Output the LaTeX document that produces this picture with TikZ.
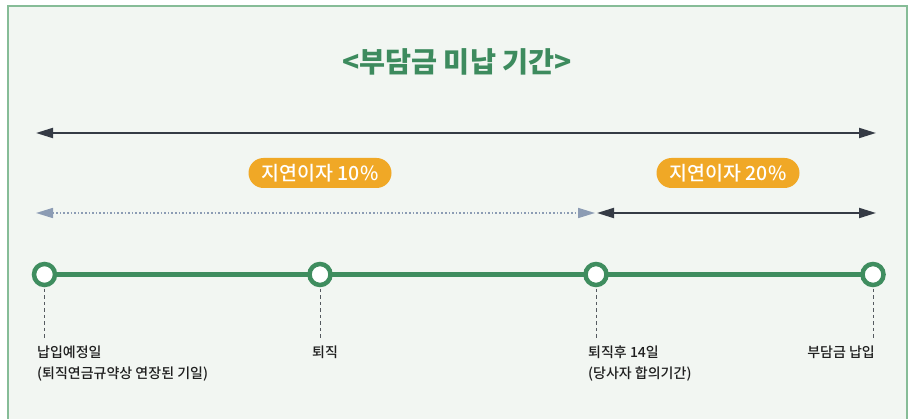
\documentclass[tikz,border=0pt]{standalone}
\usepackage{fontspec}
\setmainfont{Noto Sans CJK KR}
\newfontfamily\cjk{Noto Sans CJK KR}
\newfontfamily\cjkm[UprightFont=* Medium]{Noto Sans CJK KR}
\usetikzlibrary{arrows.meta}
\definecolor{bgc}{HTML}{F2F6F2}
\definecolor{framec}{HTML}{86BC97}
\definecolor{titlec}{HTML}{3D8B5E}
\definecolor{linec}{HTML}{3F8D5F}
\definecolor{pillc}{HTML}{F0A826}
\definecolor{darkc}{HTML}{353B45}
\definecolor{dotc}{HTML}{8C9CB4}
\definecolor{dashc}{HTML}{555A60}
\tikzset{
  pill/.style={fill=pillc, rounded corners=15pt, minimum width=143pt, minimum height=30pt, inner sep=0pt, text=white, font=\cjkm\fontsize{19.5}{22}\selectfont},
  darrow/.style={draw=darkc, line width=2pt, {Triangle[length=17pt,width=10pt]}-{Triangle[length=17pt,width=10pt]}},
  dotarrow/.style={draw=dotc, line width=1.6pt, dotted, {Triangle[length=17pt,width=10pt,fill=dotc]}-{Triangle[length=17pt,width=10pt,fill=dotc]}},
  dot/.style={circle, draw=linec, fill=white, line width=4.5pt, minimum size=21pt, inner sep=0pt},
  tick/.style={draw=dashc, line width=1pt, dash pattern=on 3.5pt off 3pt},
  lab/.style={font=\cjkm\fontsize{14}{21}\selectfont, text=black!88, inner sep=0pt, align=left},
}
\begin{document}
\begin{tikzpicture}[x=1pt,y=-1pt]
\useasboundingbox (0,0) rectangle (909,419);
\fill[white] (0,0) rectangle (909,419);
\fill[bgc] (8,6) rectangle (907,425);
\draw[framec, line width=1.5pt] (8,425) -- (8,6) -- (907,6) -- (907,425);
\node[text=titlec, font=\cjk\bfseries\fontsize{28.3}{31}\selectfont] (title) at (457,62) {<부담금 미납 기간>};
% top full arrow
\coordinate (a1) at (36,133);
\coordinate (a2) at (876,133);
\draw[darrow] (a1) -- (a2);
% pills
\node[pill] (p1) at (320,173) {지연이자 10\%};
\node[pill] (p2) at (728,173) {지연이자 20\%};
% interval arrows
\coordinate (b1) at (36,213);
\coordinate (b2) at (595,213);
\coordinate (c1) at (597,213);
\coordinate (c2) at (876,213);
\draw[dotarrow] (b1) -- (b2);
\draw[darrow] (c1) -- (c2);
% timeline
\coordinate (l1) at (44.5,274.5);
\coordinate (l4) at (873,274.5);
\draw[linec, line width=4.5pt] (l1) -- (l4);
\node[dot] (t1) at (44.5,274.5) {};
\node[dot] (t2) at (320,274.5) {};
\node[dot] (t3) at (596,274.5) {};
\node[dot] (t4) at (873,274.5) {};
% ticks
\coordinate (e1) at (44.5,338);
\coordinate (e2) at (320,338);
\coordinate (e3) at (596,338);
\coordinate (e4) at (873,338);
\draw[tick] (t1.south) ++(0,1.5) -- (e1);
\draw[tick] (t2.south) ++(0,1.5) -- (e2);
\draw[tick] (t3.south) ++(0,1.5) -- (e3);
\draw[tick] (t4.south) ++(0,1.5) -- (e4);
% labels
\node[lab, anchor=north west] (n1) at (37,346) {납입예정일\\(퇴직연금규약상 연장된 기일)};
\node[lab, anchor=north west] (n2) at (312,346) {퇴직};
\node[lab, anchor=north west] (n3) at (588,346) {퇴직후 14일\\(당사자 합의기간)};
\node[lab, anchor=north east] (n4) at (875,346) {부담금 납입};
\end{tikzpicture}
\end{document}
